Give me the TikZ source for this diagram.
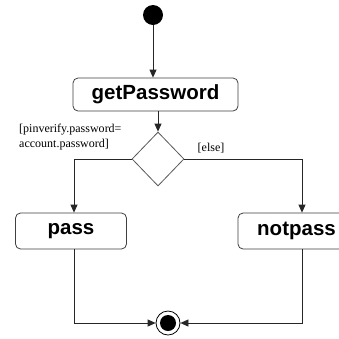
\documentclass[tikz,border=0pt]{standalone}
\usepackage{fontspec}
\setmainfont{Liberation Serif}
\newfontfamily\boxfont{Liberation Sans}
\usetikzlibrary{shapes.geometric,arrows.meta}
\begin{document}
\begin{tikzpicture}[x=1pt,y=-1pt,
  flow/.style={draw=black!85,line width=0.8pt},
  arr/.style={flow,-{Triangle[length=8pt,width=7pt]}},
  act/.style={draw=black!75,line width=0.8pt,rounded corners=5pt,inner sep=0pt,
    font=\boxfont\fontsize{20.5}{22}\selectfont\bfseries},
  guard/.style={font=\fontsize{12}{15}\selectfont,inner sep=0pt,align=left}]
\clip (0,0) rectangle (339,338);
\fill[white] (0,0) rectangle (339,338);
\node[circle,fill=black,minimum size=20pt,inner sep=0pt] (start) at (153,15) {};
\node[act,minimum width=165pt,minimum height=33pt] (gp) at (155.5,94.5) {getPassword};
\node[diamond,draw=black!65,line width=0.8pt,fill=white,minimum width=52pt,minimum height=54pt,inner sep=0pt] (d) at (158,159) {};
\node[act,minimum width=111pt,minimum height=36pt] (pass) at (71,231) {pass};
\node[act,minimum width=117pt,minimum height=36pt,text width=117pt,align=center] (np) at (296.5,231) {notpass};
\node[circle,draw=black,line width=0.8pt,minimum size=24pt,inner sep=0pt] (end) at (168,323) {};
\node[circle,fill=black,minimum size=16pt,inner sep=0pt] (endin) at (168,323) {};
\coordinate (lc) at (74,159);
\coordinate (rc) at (302,159);
\node[guard,anchor=north west] (g1) at (19,124) {[pinverify.password=\\account.password]};
\node[guard,anchor=center] (g2) at (211,148) {[else]};
\draw[arr] (start) -- (start |- gp.north);
\draw[arr] (d.north |- gp.south) -- (d.north);
\draw[arr] (d.west) -- (lc) -- (lc |- pass.north);
\draw[arr] (d.east) -- (rc) -- (rc |- np.north);
\draw[arr] (lc |- pass.south) -- (lc |- end) -- (end.west);
\draw[arr] (rc |- np.south) -- (rc |- end) -- (end.east);
\end{tikzpicture}
\end{document}
